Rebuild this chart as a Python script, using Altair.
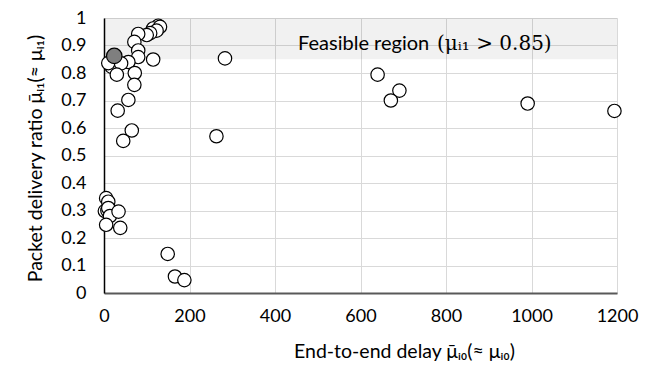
import altair as alt
import pandas as pd

# ---- data ----
delay = [127, 115, 131, 123, 108, 100, 80, 71, 80, 80, 115, 57, 18, 10, 40, 30, 72,
         71, 57, 32, 65, 45, 283, 263, 640, 691, 671, 991, 1194,
         5, 10, 2, 8, 10, 14, 34, 5, 38, 149, 166, 188]
pdr = [0.972, 0.962, 0.968, 0.954, 0.945, 0.938, 0.942, 0.913, 0.882, 0.858, 0.849, 0.840,
       0.822, 0.836, 0.835, 0.794, 0.800, 0.757, 0.702, 0.663, 0.591, 0.553, 0.853, 0.570,
       0.794, 0.736, 0.700, 0.689, 0.662,
       0.345, 0.332, 0.298, 0.300, 0.309, 0.280, 0.296, 0.248, 0.237, 0.142, 0.060, 0.047]

best_delay = [24]
best_pdr = [0.862]

x_ticks = [0, 200, 400, 600, 800, 1000, 1200]
y_ticks = [0, 0.1, 0.2, 0.3, 0.4, 0.5, 0.6, 0.7, 0.8, 0.9, 1.0]

region = {"x0": [0], "x1": [1200], "y0": [0.85], "y1": [1.0]}
label_main = "Feasible region"
label_math = "(μᵢ₁ > 0.85)"

pts = pd.DataFrame({"delay": delay, "pdr": pdr})
best = pd.DataFrame({"delay": best_delay, "pdr": best_pdr})
reg = pd.DataFrame(region)

FONT = "Lato"

xscale = alt.Scale(domain=[0, 1200], nice=False, zero=False)
yscale = alt.Scale(domain=[0, 1], nice=False, zero=False)

xaxis = alt.Axis(values=x_ticks, format="d", title="End-to-end delay μ̄ᵢ₀(≈ μᵢ₀)",
                 grid=True, gridColor="#d9d9d9", gridWidth=1, ticks=False,
                 domainColor="#595959", domainWidth=2, labelPadding=14,
                 labelOverlap=False, labelFlush=False,
                 labelFontSize=18, labelFont=FONT, labelColor="#000",
                 titleFontSize=19.5, titleFont=FONT, titleFontWeight="normal",
                 titleColor="#000", titleX=300, titleY=58, titleBaseline="middle",
                 titleAlign="center")
yaxis = alt.Axis(values=y_ticks, format=".1~f", title="Packet delivery ratio μ̄ᵢ₁(≈ μᵢ₁)",
                 grid=True, gridColor="#d9d9d9", gridWidth=1, ticks=False,
                 domainColor="#000", domainWidth=1.5, labelPadding=18,
                 labelOverlap=False,
                 labelFontSize=18, labelFont=FONT, labelColor="#000",
                 titleFontSize=19.5, titleFont=FONT, titleFontWeight="normal",
                 titleColor="#000", titleX=-69, titleY=140, titleAngle=-90,
                 titleBaseline="middle", titleAlign="center")


def X(field):
    return alt.X(field, scale=xscale, axis=xaxis)


def Y(field):
    return alt.Y(field, scale=yscale, axis=yaxis)


shade = alt.Chart(reg).mark_rect(color="#000", opacity=0.055).encode(
    x=X("x0:Q"), x2="x1:Q", y=Y("y0:Q"), y2="y1:Q",
)

circles = alt.Chart(pts).mark_point(shape="circle", filled=True, fill="white",
                                    stroke="black", strokeWidth=1.2, size=180,
                                    opacity=1).encode(
    x=X("delay:Q"), y=Y("pdr:Q"),
)

best_pt = alt.Chart(best).mark_point(shape="circle", filled=True, fill="#7f7f7f",
                                     stroke="black", strokeWidth=1.2, size=240,
                                     opacity=1).encode(
    x=X("delay:Q"), y=Y("pdr:Q"),
)

txt_df = pd.DataFrame({"x": [454], "y": [0.905], "t": [label_main]})
math_df = pd.DataFrame({"x": [779], "y": [0.905], "t": [label_math]})

txt = alt.Chart(txt_df).mark_text(align="left", baseline="middle", font=FONT,
                                  fontSize=20, color="#000").encode(
    x=X("x:Q"), y=Y("y:Q"), text="t:N")
math = alt.Chart(math_df).mark_text(align="left", baseline="middle", font="DejaVu Serif",
                                    fontSize=20, color="#000").encode(
    x=X("x:Q"), y=Y("y:Q"), text="t:N")

chart = alt.layer(shade, circles, best_pt, txt, math).properties(
    width=513, height=275,
    autosize=alt.AutoSizeParams(type="none"),
    padding={"left": 104, "top": 18, "right": 35, "bottom": 72},
).configure_view(stroke=None).configure(background="white")

chart.save("out.html", embed_options={"renderer": "svg", "actions": False})
